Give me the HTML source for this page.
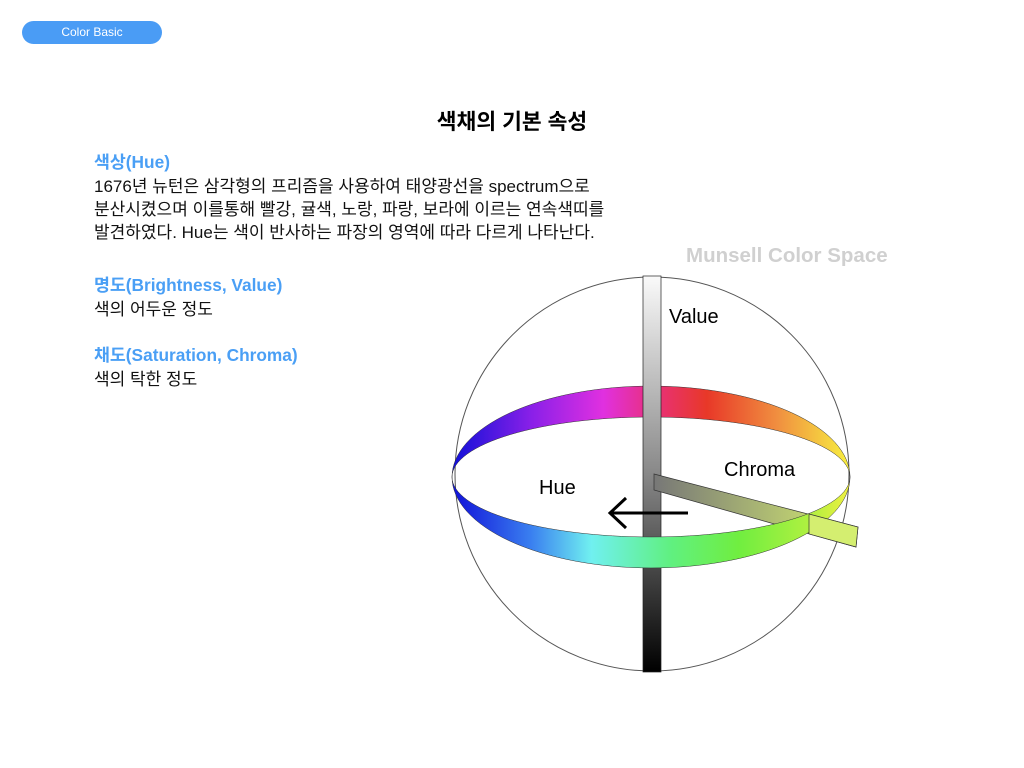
<!DOCTYPE html>
<html><head><meta charset="utf-8"><style>
body{margin:0;width:1024px;height:768px;background:#fff;position:relative;overflow:hidden;font-family:"Liberation Sans","Noto Sans CJK KR",sans-serif;}
.a{position:absolute;white-space:nowrap}
.btn{left:22px;top:21px;width:140px;height:23px;border-radius:12px;background:#4a9cf5;color:#fff;font-size:12px;line-height:23px;text-align:center}
.h{color:#4a9ff5;font-weight:bold;font-size:17.3px}
.t{font-size:17px;color:#111}
</style></head><body>
<div class="a btn">Color Basic</div>
<div class="a" style="left:0;width:1024px;text-align:center;top:105px;font-size:21.5px;font-weight:bold;">색채의 기본 속성</div>
<div class="a h" style="left:94px;top:148px">색상(Hue)</div>
<div class="a t" style="left:94px;top:175px;line-height:23px">1676년 뉴턴은 삼각형의 프리즘을 사용하여 태양광선을 spectrum으로<br>분산시켰으며 이를통해 빨강, 귤색, 노랑, 파랑, 보라에 이르는 연속색띠를<br>발견하였다. Hue는 색이 반사하는 파장의 영역에 따라 다르게 나타난다.</div>
<div class="a h" style="left:94px;top:271px">명도(Brightness, Value)</div>
<div class="a t" style="left:94px;top:295px">색의 어두운 정도</div>
<div class="a h" style="left:94px;top:341px">채도(Saturation, Chroma)</div>
<div class="a t" style="left:94px;top:365px">색의 탁한 정도</div>
<div class="a" style="left:686px;top:244px;font-size:20.5px;font-weight:bold;color:#d0d0d0">Munsell Color Space</div>
<svg class="a" style="left:0;top:0" width="1024" height="768">
<defs>
<linearGradient id="gt" x1="452" x2="850" gradientUnits="userSpaceOnUse">
<stop offset="0" stop-color="#1010d8"/><stop offset="0.2" stop-color="#8a20e8"/><stop offset="0.38" stop-color="#e030e0"/><stop offset="0.5" stop-color="#e83080"/><stop offset="0.64" stop-color="#e83828"/><stop offset="0.82" stop-color="#f09040"/><stop offset="1" stop-color="#f8f040"/></linearGradient>
<linearGradient id="gb" x1="452" x2="850" gradientUnits="userSpaceOnUse">
<stop offset="0" stop-color="#1010d8"/><stop offset="0.2" stop-color="#3a80f0"/><stop offset="0.35" stop-color="#70f0f0"/><stop offset="0.55" stop-color="#60f080"/><stop offset="0.72" stop-color="#70ee40"/><stop offset="0.9" stop-color="#b0f040"/><stop offset="1" stop-color="#f0f040"/></linearGradient>
<linearGradient id="gp" x1="0" y1="276" x2="0" y2="672" gradientUnits="userSpaceOnUse">
<stop offset="0" stop-color="#fafafa"/><stop offset="0.5" stop-color="#888"/><stop offset="1" stop-color="#000"/></linearGradient>
<linearGradient id="gc" x1="654" x2="858" gradientUnits="userSpaceOnUse">
<stop offset="0" stop-color="#777"/><stop offset="1" stop-color="#d8f070"/></linearGradient>
</defs>
<circle cx="652" cy="474" r="197" fill="none" stroke="#555" stroke-width="1"/>
<path d="M452,477 A199,91 0 0 1 850,477 A199,60 0 0 0 452,477Z" fill="url(#gt)" stroke="#333" stroke-width="0.5"/>
<rect x="643" y="276" width="18" height="396" fill="url(#gp)" stroke="#222" stroke-width="0.7"/>
<polygon points="654,474 858,527 856,547 654,490" fill="url(#gc)" stroke="#333" stroke-width="0.7"/>
<path d="M452,477 A199,91 0 0 0 850,477 A199,60 0 0 1 452,477Z" fill="url(#gb)" stroke="#333" stroke-width="0.5"/>
<polygon points="809,514 858,527 856,547 809,534" fill="#d4ee70" stroke="#333" stroke-width="0.7"/>
<path d="M688,513 H610 M626,498 L610,513 L626,528" fill="none" stroke="#000" stroke-width="3"/>
<text x="669" y="323" font-size="20" font-family="Liberation Sans,sans-serif">Value</text>
<text x="724" y="476" font-size="20" font-family="Liberation Sans,sans-serif">Chroma</text>
<text x="539" y="494" font-size="20" font-family="Liberation Sans,sans-serif">Hue</text>
</svg>
</body></html>
